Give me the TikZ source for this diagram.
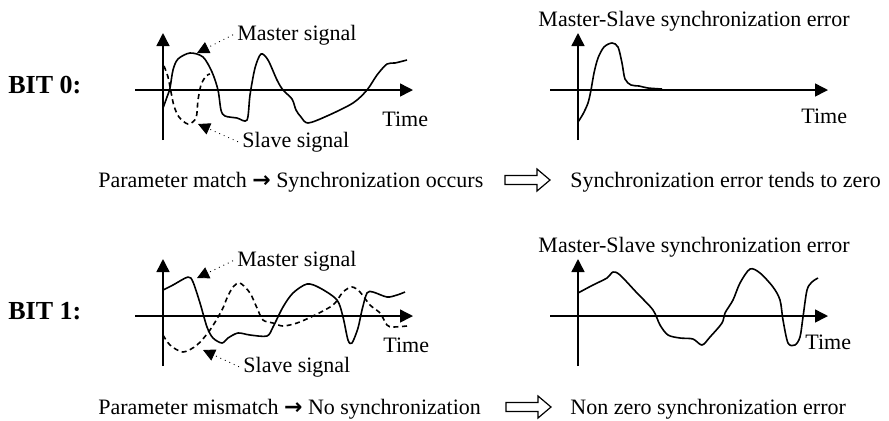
\documentclass[tikz,border=0pt]{standalone}
\usepackage{fontspec}
\setmainfont{Liberation Serif}
\newfontfamily\arrfont{DejaVu Sans}
\newcommand{\sarr}{{\arrfont\bfseries →}}
\usetikzlibrary{arrows.meta}
\tikzset{
  ax/.style={line width=0.75pt,-{Triangle[length=6.5pt,width=6.5pt]}},
  msig/.style={line width=0.8pt,black,line join=round},
  ssig/.style={line width=0.8pt,black,dash pattern=on 2.5pt off 1.8pt},
  lbl/.style={dotted,line width=0.45pt,-{Triangle[length=6pt,width=6pt]}},
  txt/.style={inner sep=0pt,font=\fontsize{11}{13}\selectfont},
  bitlab/.style={inner sep=0pt,font=\fontsize{13}{15}\selectfont\bfseries},
  hollow/.style={draw,line width=0.6pt,line join=miter},
}
\begin{document}
\begin{tikzpicture}[x=0.5pt,y=-0.5pt]
  \useasboundingbox (0,0) rectangle (889,420);
  % axes
  \foreach \ox/\oy in {163/90, 578/90, 163/316, 578/316}{
     \draw[ax] (\ox-28,\oy) -- (\ox+250,\oy);
     \draw[ax] (\ox,\oy+50) -- (\ox,\oy-57);}
  % bit labels
  \node[bitlab,anchor=base west] (bit0) at (8,93){BIT 0:};
  \node[bitlab,anchor=base west] (bit1) at (8,319){BIT 1:};
  \foreach \i/\x/\y in {0/382/126, 1/801/123, 2/383/352, 3/805/349}{
     \node[txt,anchor=base west] (tim\i) at (\x,\y){Time};}
  % bit 0
  \draw[msig] plot[smooth] coordinates {(163,108) (167,97) (170,88) (173,70) (178,59) (190,53) (203,57)
    (212,72) (218,90) (221,110) (225,116) (237,118) (247,120) (250,95) (255,68) (261,54) (268,60)
    (277,80) (283,90) (292,99) (296,110) (301,117) (308,123) (327,116) (353,103) (367,90) (377,75)
    (387,64) (395,63) (407,60)};
  \draw[ssig] plot[smooth] coordinates {(164,66) (168,77) (171,92) (174,106) (179,117) (188,124)
    (196,118) (198,100) (201,85) (206,76) (210,74)};
  \node[txt,anchor=base west] (mlab0) at (237,40){Master signal};
  \node[txt,anchor=base west] (slab0) at (242,147){Slave signal};
  \coordinate (mtip0) at (197,53);
  \coordinate (stip0) at (198,124);
  \draw[lbl] ([xshift=-2pt]mlab0.west) -- (mtip0);
  \draw[lbl] ([xshift=-2pt]slab0.west) -- (stip0);
  \node[txt,anchor=base east] (err0) at (850,26){Master-Slave synchronization error};
  \draw[msig] plot[smooth] coordinates {(578,122) (583,114) (588,103) (591,90) (594,73) (598,58)
    (604,47) (612,43) (618,47) (622,63) (625,79) (631,85) (639,86) (648,88) (662,89)};
  \node[txt,anchor=base west] (cond0) at (98,187){Parameter match \sarr{} Synchronization occurs};
  \draw[hollow] (505,175.5) -- (537,175.5) -- (537,169) -- (550,180) -- (537,191) -- (537,184.5)
    -- (505,184.5) -- cycle;
  \node[txt,anchor=base west] (res0) at (570,187){Synchronization error tends to zero};
  % bit 1
  \draw[msig] plot[smooth] coordinates {(163,290) (173,285) (188,277) (193,282) (200,303) (207,327)
    (213,338) (222,343) (228,338) (238,333) (250,335) (267,336) (273,327) (283,307) (293,293)
    (307,284) (320,288) (337,300) (343,317) (348,340) (352,343) (358,328) (362,310) (367,293)
    (373,292) (387,297) (397,295) (405,292)};
  \draw[ssig] plot[smooth] coordinates {(163,335) (170,345) (183,352) (197,345) (210,330) (222,310)
    (227,298) (233,287) (240,283) (250,293) (257,308) (263,320) (273,323) (283,326) (297,323)
    (313,316) (333,305) (343,292) (352,287) (360,292) (370,305) (380,313) (387,325) (393,327)
    (407,326)};
  \node[txt,anchor=base west] (mlab1) at (237,266){Master signal};
  \node[txt,anchor=base west] (slab1) at (243,372){Slave signal};
  \coordinate (mtip1) at (197,278);
  \coordinate (stip1) at (203,350);
  \draw[lbl] ([xshift=-2pt]mlab1.west) -- (mtip1);
  \draw[lbl] ([xshift=-2pt]slab1.west) -- (stip1);
  \node[txt,anchor=base east] (err1) at (850,252){Master-Slave synchronization error};
  \draw[msig] plot[smooth] coordinates {(578,293) (593,285) (607,278) (613,272) (620,275) (637,293)
    (653,310) (660,325) (668,335) (680,338) (693,339) (702,345) (710,337) (722,323) (725,313)
    (733,300) (740,283) (750,269) (760,273) (773,287) (780,300) (783,320) (788,343) (795,345)
    (800,337) (803,317) (807,290) (812,282) (818,278)};
  \node[txt,anchor=base west] (cond1) at (98,414){Parameter mismatch \sarr{} No synchronization};
  \draw[hollow] (506,402.5) -- (538,402.5) -- (538,396) -- (551,407) -- (538,418) -- (538,411.5)
    -- (506,411.5) -- cycle;
  \node[txt,anchor=base west] (res1) at (570,414){Non zero synchronization error};
\end{tikzpicture}
\end{document}
